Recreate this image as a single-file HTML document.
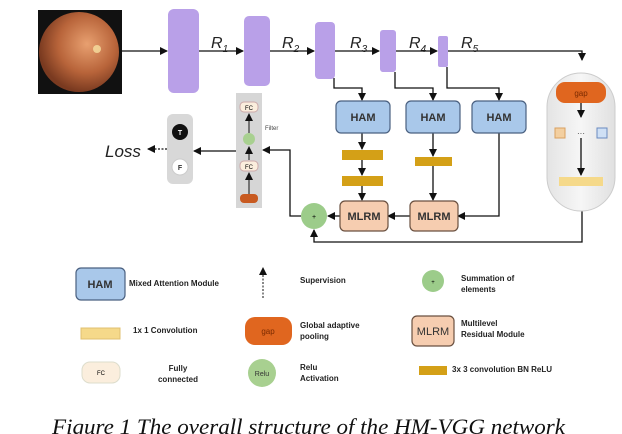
<!DOCTYPE html>
<html><head><meta charset="utf-8"><style>
html,body{margin:0;padding:0;background:#fff;width:622px;height:434px;overflow:hidden}
svg{display:block}
text{font-family:"Liberation Sans",sans-serif}
text.cap{font-family:"Liberation Serif",serif}
.b{font-weight:bold;font-size:8px;fill:#222}
</style></head><body>
<svg width="622" height="434" viewBox="0 0 622 434" xmlns="http://www.w3.org/2000/svg">
<defs>
<marker id="a" markerWidth="8" markerHeight="8" refX="7" refY="4" orient="auto" markerUnits="userSpaceOnUse"><path d="M0,0 L8,4 L0,8 z" fill="#111"/></marker>
<radialGradient id="eye" cx="0.6" cy="0.4" r="0.6"><stop offset="0" stop-color="#e8a070"/><stop offset="0.6" stop-color="#b8643a"/><stop offset="1" stop-color="#7a3a20"/></radialGradient>
<linearGradient id="cap" x1="0" x2="1"><stop offset="0" stop-color="#e4e4e4"/><stop offset="0.5" stop-color="#f6f6f6"/><stop offset="1" stop-color="#e0e0e0"/></linearGradient>
</defs>
<rect x="38" y="10" width="84" height="84" fill="#111"/>
<circle cx="79" cy="52" r="40" fill="url(#eye)"/>
<circle cx="97" cy="49" r="4" fill="#f6e0a0" opacity="0.8"/>
<g stroke="#111" stroke-width="1.3" fill="none">
<line x1="122" y1="51" x2="167" y2="51" marker-end="url(#a)"/>
<line x1="198" y1="51" x2="243" y2="51" marker-end="url(#a)"/>
<line x1="269" y1="51" x2="314" y2="51" marker-end="url(#a)"/>
<line x1="335" y1="51" x2="379" y2="51" marker-end="url(#a)"/>
<line x1="396" y1="51" x2="437" y2="51" marker-end="url(#a)"/>
<polyline points="448,51 582,51 582,60" marker-end="url(#a)"/>
<polyline points="334,78 334,88 362,88 362,100" marker-end="url(#a)"/>
<polyline points="395,72 395,88 433,88 433,100" marker-end="url(#a)"/>
<polyline points="447,67 447,88 499,88 499,100" marker-end="url(#a)"/>
<line x1="362" y1="133" x2="362" y2="149" marker-end="url(#a)"/>
<line x1="362" y1="160" x2="362" y2="175" marker-end="url(#a)"/>
<line x1="362" y1="186" x2="362" y2="200" marker-end="url(#a)"/>
<line x1="433" y1="133" x2="433" y2="156" marker-end="url(#a)"/>
<line x1="433" y1="166" x2="433" y2="200" marker-end="url(#a)"/>
<polyline points="499,133 499,216 458,216" marker-end="url(#a)"/>
<line x1="410" y1="216" x2="388" y2="216" marker-end="url(#a)"/>
<line x1="340" y1="216" x2="328" y2="216" marker-end="url(#a)"/>
<polyline points="582,210 582,242 314,242 314,230" marker-end="url(#a)"/>
<polyline points="301,216 290,216 290,150 263,150" marker-end="url(#a)"/>
<line x1="236" y1="151" x2="194" y2="151" marker-end="url(#a)"/>
</g>
<line x1="167" y1="149" x2="148" y2="149" stroke="#111" stroke-width="1.2" stroke-dasharray="2,1.5" marker-end="url(#a)"/>
<text x="105" y="157" font-size="17" font-style="italic" fill="#222">Loss</text>
<g fill="#b9a0e8">
<rect x="168" y="9" width="31" height="84" rx="6"/>
<rect x="244" y="16" width="26" height="70" rx="5"/>
<rect x="315" y="22" width="20" height="57" rx="4"/>
<rect x="380" y="30" width="16" height="42" rx="3"/>
<rect x="438" y="36" width="10" height="31" rx="2"/>
</g>
<g font-size="16" font-style="italic" fill="#222">
<text x="211" y="48">R<tspan font-size="10" dy="4">1</tspan></text>
<text x="282" y="48">R<tspan font-size="10" dy="4">2</tspan></text>
<text x="350" y="48">R<tspan font-size="10" dy="4">3</tspan></text>
<text x="409" y="48">R<tspan font-size="10" dy="4">4</tspan></text>
<text x="461" y="48">R<tspan font-size="10" dy="4">5</tspan></text>
</g>
<rect x="547" y="73" width="68" height="138" rx="34" fill="url(#cap)" stroke="#ccc"/>
<rect x="556" y="82" width="50" height="21" rx="9" fill="#e0661f"/>
<text x="581" y="96" font-size="8" text-anchor="middle" fill="#7a2a00">gap</text>
<line x1="581" y1="103" x2="581" y2="117" stroke="#111" stroke-width="1.3" marker-end="url(#a)"/>
<rect x="555" y="128" width="10" height="10" fill="#f3cfa0" stroke="#d9a060"/>
<text x="581" y="136" font-size="8" text-anchor="middle" fill="#333">···</text>
<rect x="597" y="128" width="10" height="10" fill="#cfe0f5" stroke="#6a8ac0"/>
<line x1="581" y1="138" x2="581" y2="175" stroke="#111" stroke-width="1.3" marker-end="url(#a)"/>
<rect x="559" y="177" width="44" height="9" fill="#f5d98a"/>
<g fill="#a9c8ea" stroke="#4a6080" stroke-width="1.2">
<rect x="336" y="101" width="54" height="32" rx="5"/>
<rect x="406" y="101" width="54" height="32" rx="5"/>
<rect x="472" y="101" width="54" height="32" rx="5"/>
</g>
<g font-size="11" font-weight="bold" fill="#333" text-anchor="middle">
<text x="363" y="121">HAM</text><text x="433" y="121">HAM</text><text x="499" y="121">HAM</text>
</g>
<g fill="#d4a017">
<rect x="342" y="150" width="41" height="10"/>
<rect x="342" y="176" width="41" height="10"/>
<rect x="415" y="157" width="37" height="9"/>
</g>
<g fill="#f6cdb0" stroke="#6a5040" stroke-width="1.2">
<rect x="340" y="201" width="48" height="30" rx="5"/>
<rect x="410" y="201" width="48" height="30" rx="5"/>
</g>
<g font-size="11" font-weight="bold" fill="#333" text-anchor="middle">
<text x="364" y="220">MLRM</text><text x="434" y="220">MLRM</text>
</g>
<circle cx="314" cy="216" r="13" fill="#9ccc8a"/>
<text x="314" y="219" font-size="7" text-anchor="middle">+</text>
<rect x="236" y="93" width="26" height="115" fill="#d6d6d6"/>
<rect x="240" y="102" width="18" height="10" rx="4" fill="#fbeedd" stroke="#caa"/>
<text x="249" y="110" font-size="6" text-anchor="middle">FC</text>
<circle cx="249" cy="139" r="6" fill="#a8d090"/>
<rect x="240" y="161" width="18" height="10" rx="4" fill="#fbeedd" stroke="#caa"/>
<text x="249" y="169" font-size="6" text-anchor="middle">FC</text>
<rect x="240" y="194" width="18" height="9" rx="4" fill="#c85a20"/>
<g stroke="#111" stroke-width="1" fill="none">
<line x1="249" y1="133" x2="249" y2="114" marker-end="url(#a)"/>
<line x1="249" y1="160" x2="249" y2="147" marker-end="url(#a)"/>
<line x1="249" y1="194" x2="249" y2="173" marker-end="url(#a)"/>
</g>
<text x="265" y="130" font-size="6" fill="#444">Filter</text>
<rect x="167" y="114" width="26" height="70" rx="6" fill="#d8d8d8"/>
<circle cx="180" cy="132" r="8" fill="#111"/>
<text x="180" y="135" font-size="7" fill="#fff" font-weight="bold" text-anchor="middle">T</text>
<circle cx="180" cy="167" r="8" fill="#fff" stroke="#ccc"/>
<text x="180" y="170" font-size="7" fill="#333" font-weight="bold" text-anchor="middle">F</text>
<rect x="76" y="268" width="49" height="32" rx="5" fill="#a9c8ea" stroke="#4a6080" stroke-width="1.2"/>
<text x="100" y="288" font-size="11" font-weight="bold" fill="#333" text-anchor="middle">HAM</text>
<text x="129" y="286" class="b">Mixed Attention Module</text>
<line x1="263" y1="298" x2="263" y2="268" stroke="#111" stroke-width="1" stroke-dasharray="2,1.5" marker-end="url(#a)"/>
<text x="300" y="283" class="b" font-size="9">Supervision</text>
<circle cx="433" cy="281" r="11" fill="#9ccc8a"/>
<text x="433" y="284" font-size="6" text-anchor="middle">+</text>
<text x="461" y="281" class="b">Summation of</text>
<text x="461" y="292" class="b">elements</text>
<rect x="81" y="328" width="39" height="11" fill="#f5d98a" stroke="#e0c070"/>
<text x="133" y="333" class="b">1x 1 Convolution</text>
<rect x="245" y="317" width="47" height="28" rx="10" fill="#e0661f"/>
<text x="268" y="334" font-size="8" text-anchor="middle" fill="#7a2a00">gap</text>
<text x="300" y="328" class="b">Global adaptive</text>
<text x="300" y="339" class="b">pooling</text>
<rect x="412" y="316" width="42" height="30" rx="5" fill="#f6cdb0" stroke="#6a5040" stroke-width="1.2"/>
<text x="433" y="335" font-size="11" fill="#333" text-anchor="middle">MLRM</text>
<text x="461" y="326" class="b">Multilevel</text>
<text x="461" y="337" class="b">Residual Module</text>
<rect x="82" y="362" width="38" height="21" rx="8" fill="#fbeedd" stroke="#ddc"/>
<text x="101" y="375" font-size="6" text-anchor="middle">FC</text>
<text x="178" y="371" class="b" text-anchor="middle">Fully</text>
<text x="178" y="382" class="b" text-anchor="middle">connected</text>
<circle cx="262" cy="373" r="14" fill="#a8d090"/>
<text x="262" y="376" font-size="7" text-anchor="middle" fill="#333">Relu</text>
<text x="300" y="370" class="b">Relu</text>
<text x="300" y="381" class="b">Activation</text>
<rect x="419" y="366" width="28" height="9" fill="#d4a017"/>
<text x="452" y="372" class="b">3x 3 convolution BN ReLU</text>
<text class="cap" x="52" y="434" font-style="italic" font-size="22" fill="#111" textLength="513" lengthAdjust="spacingAndGlyphs">Figure 1 The overall structure of the HM-VGG network</text>
</svg>
</body></html>
